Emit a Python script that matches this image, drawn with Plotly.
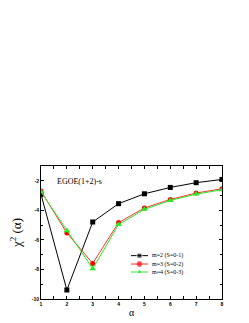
import plotly.graph_objects as go

alpha = [1, 2, 3, 4, 5, 6, 7, 8]
m2 = [-2.92, -9.39, -4.79, -3.55, -2.88, -2.45, -2.13, -1.91]
m3 = [-2.70, -5.53, -7.59, -4.83, -3.84, -3.26, -2.83, -2.54]
m4 = [-2.75, -5.39, -7.95, -4.96, -3.93, -3.33, -2.90, -2.61]
names = ["m=2 (S=0-1)", "m=3 (S=0-2)", "m=4 (S=0-3)"]
xticks = [1, 2, 3, 4, 5, 6, 7, 8]
yticks = [-10, -8, -6, -4, -2]

colors = ["black", "red", "#22ee22"]
linecolors = ["black", "#ff3030", "#22ee22"]
symbols = ["square", "circle", "triangle-up"]
sizes = [5, 5, 6]

serif = "Times New Roman, Liberation Serif, serif"
fig = go.Figure()
for ys, nm, c, lc, s, sz in zip([m2, m3, m4], names, colors, linecolors, symbols, sizes):
    fig.add_trace(go.Scatter(x=alpha, y=ys, name=nm, mode="lines+markers",
                             line=dict(color=lc, width=1),
                             marker=dict(symbol=s, size=sz, color=c), showlegend=False))

# hand-made legend on an overlay axis spanning the plot area (0..1)
leg_y = [0.326, 0.263, 0.203]
for nm, c, lc, s, sz, yy in zip(names, colors, linecolors, symbols, sizes, leg_y):
    fig.add_trace(go.Scatter(x=[0.497, 0.544, 0.591], y=[yy, yy, yy], xaxis="x2", yaxis="y2",
                             mode="lines+markers", line=dict(color=lc, width=1),
                             marker=dict(symbol=s, size=[0, sz, 0], color=c),
                             showlegend=False, hoverinfo="skip"))
    fig.add_annotation(text=nm, x=0.6, y=yy, xref="x2", yref="y2", xanchor="left",
                       yanchor="middle", showarrow=False,
                       font=dict(family=serif, size=6, color="black"))

fig.add_annotation(text="EGOE(1+2)-s", x=0.075, y=0.885, xref="paper", yref="paper",
                   xanchor="left", yanchor="middle", showarrow=False,
                   font=dict(family=serif, size=8, color="black"))

axis_common = dict(showline=True, linecolor="black", linewidth=1, mirror="allticks",
                   ticks="inside", ticklen=3, tickwidth=1, tickcolor="black",
                   showgrid=False, zeroline=False, automargin=False,
                   tickfont=dict(family="Arial, Liberation Sans, sans-serif", size=5,
                                 color="black", weight="bold"))

fig.update_xaxes(range=[1, 8], tickvals=xticks, ticktext=[str(v) for v in xticks],
                 minor=dict(ticks="inside", ticklen=3, dtick=0.5, tickcolor="black"),
                 title=dict(text="α", font=dict(family=serif, size=10, color="black"), standoff=2),
                 **axis_common)
fig.update_yaxes(range=[-10, -1], tickvals=yticks, ticktext=[str(v) for v in yticks],
                 minor=dict(ticks="inside", ticklen=2, dtick=1, tickcolor="black"),
                 title=dict(text="χ<sup>2</sup> (α)", font=dict(family=serif, size=13, color="black"), standoff=10),
                 **axis_common)

fig.update_layout(
    width=241, height=315,
    margin=dict(l=33, r=27, t=158, b=24),
    paper_bgcolor="white", plot_bgcolor="white",
    showlegend=False,
    xaxis2=dict(overlaying="x", range=[0, 1], showticklabels=False, showgrid=False,
                zeroline=False, showline=False, ticks="", fixedrange=True, automargin=False),
    yaxis2=dict(overlaying="y", range=[0, 1], showticklabels=False, showgrid=False,
                zeroline=False, showline=False, ticks="", fixedrange=True, automargin=False),
)
fig.write_html("out.html")
